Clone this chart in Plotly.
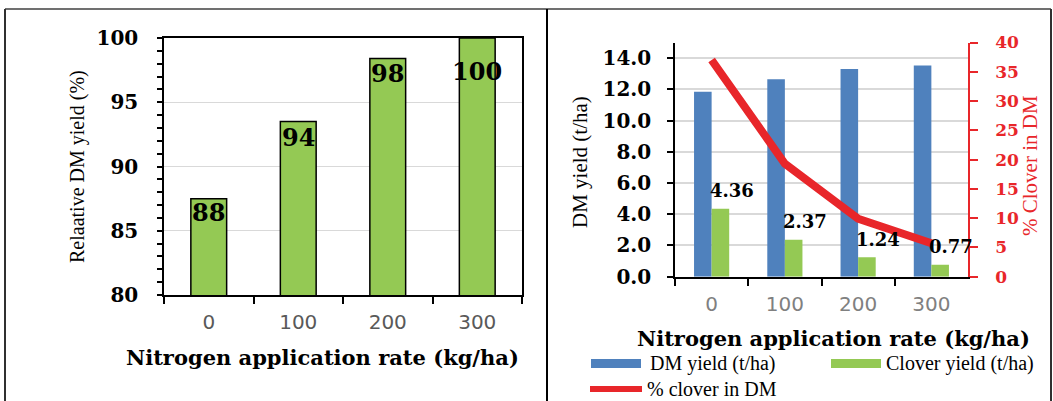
import plotly.graph_objects as go

# ---------------- data ----------------
n_rates = ["0", "100", "200", "300"]
relative_dm_yield = [87.5, 93.5, 98.4, 100.0]
relative_labels = ["88", "94", "98", "100"]

dm_yield = [11.84, 12.65, 13.31, 13.53]
clover_yield = [4.36, 2.37, 1.24, 0.77]
clover_labels = ["4.36", "2.37", "1.24", "0.77"]
clover_pct = [37.0, 19.3, 9.9, 5.7]

left_ticks_y = [80, 85, 90, 95, 100]
right_ticks_y = [0, 2, 4, 6, 8, 10, 12, 14]
right_ticks_pct = [0, 5, 10, 15, 20, 25, 30, 35, 40]

# ---------------- style ----------------
W, H = 1053, 401
GREEN = "#94C954"
BLUE = "#4F81BD"
RED = "#E8262A"
SERIF_B = dict(family="DejaVu Serif", color="black", size=20, weight="bold")
SERIF = "Liberation Serif"
SANS = "DejaVu Sans"


def px(x):
    return x / W


def py(y):
    return 1 - y / H


fig = go.Figure()

# left panel bars
fig.add_trace(go.Bar(
    x=n_rates, y=relative_dm_yield, width=0.4,
    marker=dict(color=GREEN, line=dict(color="black", width=1.5)),
    xaxis="x", yaxis="y", showlegend=False, hoverinfo="skip"))

# right panel bars + line
fig.add_trace(go.Bar(
    x=n_rates, y=dm_yield, name="DM yield (t/ha)",
    marker=dict(color=BLUE, line=dict(width=0)),
    xaxis="x2", yaxis="y2", showlegend=False))
fig.add_trace(go.Bar(
    x=n_rates, y=clover_yield, name="Clover yield (t/ha)",
    marker=dict(color=GREEN, line=dict(width=0)),
    xaxis="x2", yaxis="y2", showlegend=False))
fig.add_trace(go.Scatter(
    x=n_rates, y=clover_pct, name="% clover in DM", mode="lines",
    line=dict(color=RED, width=8),
    xaxis="x2", yaxis="y3", showlegend=False))

annotations = []
# left bar labels (category axis: annotation x given as category index)
left_label_shift = [-14, -16, -15, -33]
for i, (v, t, s) in enumerate(zip(relative_dm_yield, relative_labels, left_label_shift)):
    annotations.append(dict(x=i, y=v, xref="x", yref="y", text=t, showarrow=False,
                            xanchor="center", yanchor="middle", yshift=s,
                            font=dict(family="DejaVu Serif", size=24, color="black", weight="bold")))
# right clover labels
for i, (v, t) in enumerate(zip(clover_yield, clover_labels)):
    annotations.append(dict(x=i, y=v, xref="x2", yref="y2", text=t, showarrow=False,
                            xanchor="center", yanchor="middle", yshift=18, xshift=20,
                            font=dict(family="DejaVu Serif", size=18, color="black", weight="bold")))


def paper_text(x, y, text, font, angle=0, xanchor="center"):
    return dict(x=px(x), y=py(y), xref="paper", yref="paper", showarrow=False,
                xanchor=xanchor, yanchor="middle", textangle=angle, text=text, font=font)


title_font = dict(family="DejaVu Serif", size=21, color="black", weight="bold")
legend_font = dict(family=SERIF, size=20, color="black")
annotations += [
    paper_text(322, 357, "Nitrogen application rate (kg/ha)", title_font),
    paper_text(833, 338, "Nitrogen application rate (kg/ha)", title_font),
    paper_text(78, 167, "Relaative DM yield (%)", dict(family=SERIF, size=20, color="black"), -90),
    paper_text(580, 162, "DM yield (t/ha)", dict(family=SERIF, size=21, color="black"), -90),
    paper_text(1030, 166, "% Clover in DM", dict(family=SERIF, size=21, color=RED), -90),
    # legend texts
    paper_text(648, 363, "DM yield (t/ha)", legend_font, xanchor="left"),
    paper_text(884, 363, "Clover yield (t/ha)", legend_font, xanchor="left"),
    paper_text(645, 389, "% clover in DM", legend_font, xanchor="left"),
]

shapes = [
    # panel borders
    dict(type="line", xref="paper", yref="paper", x0=px(5), x1=px(1051), y0=py(9), y1=py(9),
         line=dict(color="#404040", width=1.5)),
    dict(type="line", xref="paper", yref="paper", x0=px(5), x1=px(5), y0=py(9), y1=py(402),
         line=dict(color="#303030", width=2)),
    dict(type="line", xref="paper", yref="paper", x0=px(547), x1=px(547), y0=py(9), y1=py(402),
         line=dict(color="black", width=2)),
    dict(type="line", xref="paper", yref="paper", x0=px(1051), x1=px(1051), y0=py(9), y1=py(402),
         line=dict(color="#303030", width=2)),
    # legend swatches
    dict(type="rect", xref="paper", yref="paper", x0=px(591), x1=px(641), y0=py(368), y1=py(359),
         fillcolor=BLUE, line=dict(width=0)),
    dict(type="rect", xref="paper", yref="paper", x0=px(831), x1=px(881), y0=py(368), y1=py(359),
         fillcolor=GREEN, line=dict(width=0)),
    dict(type="line", xref="paper", yref="paper", x0=px(590), x1=px(642), y0=py(389), y1=py(389),
         line=dict(color=RED, width=6)),
]

fig.update_layout(
    width=W, height=H,
    margin=dict(l=0, r=0, t=0, b=0, autoexpand=False),
    paper_bgcolor="white", plot_bgcolor="white",
    barmode="group", bargap=0.52, bargroupgap=0,
    showlegend=False,
    annotations=annotations, shapes=shapes,
    xaxis=dict(domain=[px(164), px(522)], anchor="y", type="category",
               range=[-0.5, 3.5], automargin=False,
               showline=True, linecolor="black", linewidth=2, mirror=True,
               ticks="outside", ticklen=7, tickcolor="black", tickwidth=2, tickson="boundaries",
               showgrid=False, ticklabelstandoff=8, tickangle=0,
               tickfont=dict(family=SANS, size=20, color="#595959")),
    yaxis=dict(domain=[py(295), py(38)], anchor="x", range=[80, 100], automargin=False,
               tickvals=left_ticks_y,
               showline=True, linecolor="black", linewidth=1.5, mirror=True,
               ticks="outside", ticklen=5, tickcolor="black", tickwidth=1.5,
               minor=dict(dtick=1, ticks="outside", ticklen=5, tickcolor="black", tickwidth=1.5,
                          showgrid=False),
               showgrid=True, gridcolor="#d9d9d9", gridwidth=1, zeroline=False,
               ticklabelstandoff=15, tickfont=SERIF_B),
    xaxis2=dict(domain=[px(675), px(968)], anchor="y2", type="category",
                range=[-0.5, 3.5], automargin=False,
                showline=True, linecolor="black", linewidth=2,
                ticks="outside", ticklen=7, tickcolor="black", tickwidth=2, tickson="boundaries",
                showgrid=False, ticklabelstandoff=8, tickangle=0,
                tickfont=dict(family=SANS, size=20, color="#808080")),
    yaxis2=dict(domain=[py(276.7), py(42.5)], anchor="x2", range=[0, 15], automargin=False,
                tickvals=right_ticks_y, tickformat=".1f",
                showline=True, linecolor="black", linewidth=1.5,
                ticks="outside", ticklen=6, tickcolor="black", tickwidth=1.5,
                showgrid=True, gridcolor="#d9d9d9", gridwidth=1.5, zeroline=False,
                ticklabelstandoff=12, tickfont=SERIF_B),
    yaxis3=dict(overlaying="y2", anchor="x2", side="right", range=[0, 40], automargin=False,
                tickvals=right_ticks_pct,
                showline=True, linecolor=RED, linewidth=1.5,
                ticks="outside", ticklen=8, tickcolor=RED, tickwidth=1.5,
                showgrid=False, zeroline=False, ticklabelstandoff=14,
                tickfont=dict(family="DejaVu Serif", size=17, color=RED, weight="bold")),
)

fig.write_html("out.html")
